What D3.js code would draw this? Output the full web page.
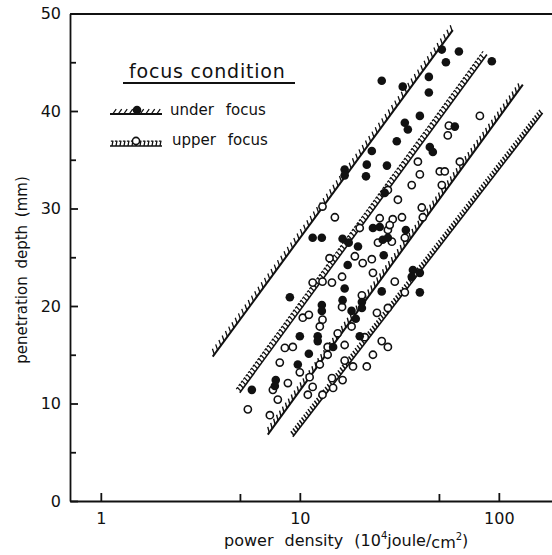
<!DOCTYPE html>
<html>
<head>
<meta charset="utf-8">
<script src="https://cdn.jsdelivr.net/npm/d3@7"></script>
<style>
  body { margin: 0; background: #fff; }
  svg text { font-family: "DejaVu Sans", sans-serif; fill: #111; }
  .axis path, .axis line { stroke: #111; stroke-width: 1.8; }
</style>
</head>
<body>
<div id="chart"></div>
<script>
// under focus (filled dots): power density, penetration depth
var underPower = [51.7, 63.0, 54.2, 92.2, 44.5, 25.8, 32.9, 44.5, 40.1, 33.7, 34.9, 30.7, 45.0, 46.6, 60.1,
  27.4, 21.7, 16.8, 16.8, 21.5, 23.0, 26.7, 11.6, 12.9, 16.4, 19.6, 17.6, 23.3, 25.2, 26.1, 27.7, 34.1,
  26.4, 17.4, 8.91, 16.8, 16.4, 12.9, 12.9, 18.2, 19.1, 25.8, 20.5, 20.5, 10.0, 12.3, 12.3, 11.1, 9.77,
  14.7, 20.0, 7.57, 7.49, 5.74, 37.0, 40.1, 36.5, 40.1];
var underDepth = [46.3, 46.1, 45.0, 45.1, 43.5, 43.1, 42.5, 41.9, 39.5, 38.8, 38.1, 36.9, 36.3, 35.8, 38.4,
  34.4, 34.5, 34.0, 33.4, 33.3, 35.9, 31.6, 27.0, 27.0, 26.9, 26.1, 26.5, 28.0, 28.1, 26.8, 27.0, 27.8,
  25.2, 24.2, 20.9, 21.8, 20.6, 20.1, 19.5, 19.5, 18.7, 21.5, 20.4, 19.8, 16.9, 16.9, 16.4, 15.1, 14.0,
  15.8, 16.9, 12.4, 11.8, 11.4, 23.7, 23.4, 23.0, 21.4];

// upper focus (open circles)
var upperPower = [80.3, 56.1, 55.4, 39.2, 50.5, 53.5, 63.7, 51.7, 40.1, 36.5, 31.1, 41.0, 41.5, 32.6, 29.3,
  27.7, 33.7, 30.0, 33.7, 13.0, 15.0, 27.7, 25.2, 28.3, 20.0, 24.7, 29.0, 14.1, 18.9, 20.7, 23.0, 23.3,
  16.3, 11.6, 13.0, 14.5, 16.3, 20.5, 24.4, 27.7, 10.35, 11.1, 13.0, 12.6, 18.2, 15.5, 16.8, 21.2, 25.8,
  27.7, 13.8, 13.8, 12.6, 8.41, 9.22, 7.93, 10.0, 8.71, 7.32, 7.75, 7.07, 5.48, 10.97, 13.0, 14.7, 14.5,
  16.4, 18.5, 16.8, 21.7, 23.3, 11.6, 11.2];
var upperDepth = [39.5, 38.5, 37.5, 34.8, 33.8, 33.8, 34.8, 32.4, 33.5, 32.4, 30.9, 30.1, 29.1, 29.1, 28.9,
  27.8, 27.0, 22.5, 21.4, 30.2, 29.1, 31.9, 29.0, 28.3, 28.0, 26.5, 26.6, 24.9, 25.1, 24.4, 24.8, 23.4,
  23.0, 22.4, 22.5, 22.4, 19.9, 21.1, 19.3, 19.8, 18.8, 19.1, 18.6, 17.9, 17.9, 17.2, 16.0, 16.8, 16.4,
  15.8, 15.8, 15.0, 14.0, 15.7, 15.8, 14.2, 13.2, 12.1, 11.4, 10.4, 8.8, 9.4, 10.9, 10.9, 11.6, 12.6,
  12.4, 13.8, 14.4, 13.8, 15.0, 11.7, 12.7];

// band boundaries [power, depth] at each end
var underUpperLine = [[3.65, 14.8], [58.7, 48.3]];
var upperUpperLine = [[4.99, 11.1], [87.1, 45.8]];
var underLowerLine = [[6.9, 6.8], [132, 42.7]];
var upperLowerLine = [[9.22, 6.6], [166, 39.8]];

var xMajor = [1, 10, 100];
var xMinor = [5, 50];
var yMajor = [0, 10, 20, 30, 40, 50];
var yMinor = [5, 15, 25, 35, 45];

var svgWidth = 552;
var svgHeight = 555;

var svg = d3.select("#chart").append("svg")
  .attr("width", svgWidth)
  .attr("height", svgHeight);

var x = d3.scaleLog().domain([0.7, 185]).range([70, 552]);
var y = d3.scaleLinear().domain([0, 50]).range([501, 13.5]);

// axes
svg.append("g").attr("class", "axis")
  .attr("transform", `translate(0, ${y(0)})`)
  .call(d3.axisBottom(x).tickValues(xMajor).tickSize(-8).tickSizeOuter(0).tickPadding(12).tickFormat(d3.format("d")))
  .selectAll("text").style("font-size", "16px").style("font-family", "DejaVu Sans");
svg.append("g").attr("class", "axis")
  .attr("transform", `translate(0, ${y(0)})`)
  .call(d3.axisBottom(x).tickValues(xMinor).tickSize(-7).tickFormat(""))
  .select(".domain").remove();
svg.append("g").attr("class", "axis")
  .attr("transform", `translate(0, ${y(50)})`)
  .call(d3.axisTop(x).tickValues([]).tickSizeOuter(0));

svg.append("g").attr("class", "axis")
  .attr("transform", `translate(${x.range()[0]}, 0)`)
  .call(d3.axisLeft(y).tickValues(yMajor).tickSize(-8).tickSizeOuter(0).tickPadding(9))
  .selectAll("text").style("font-size", "16px").style("font-family", "DejaVu Sans");
svg.append("g").attr("class", "axis")
  .attr("transform", `translate(${x.range()[0]}, 0)`)
  .call(d3.axisLeft(y).tickValues(yMinor).tickSize(-6).tickFormat(""))
  .select(".domain").remove();

// axis titles
svg.append("text")
  .attr("transform", "translate(27, 270) rotate(-90)")
  .attr("text-anchor", "middle")
  .style("font-size", "15px")
  .style("word-spacing", "3px")
  .text("penetration depth (mm)");

var xt = svg.append("text")
  .attr("x", 224).attr("y", 546)
  .style("font-size", "16px")
  .style("word-spacing", "6px");
xt.append("tspan").text("power density (10");
xt.append("tspan").attr("dy", -7).style("font-size", "10px").text("4");
xt.append("tspan").attr("dy", 7).text("joule/");
xt.append("tspan").attr("dy", 2).text("cm");
xt.append("tspan").attr("dy", -8).style("font-size", "10px").text("2");
xt.append("tspan").attr("dy", 6).text(")");

// hatched boundary line
function hatch(g, p0, p1, st) {
  var dx = p1[0] - p0[0], dy = p1[1] - p0[1], L = Math.hypot(dx, dy);
  var ux = dx / L, uy = dy / L, nx = uy, ny = -ux;
  var a = st.angle * Math.PI / 180;
  var hx = (nx * Math.cos(a) + ux * Math.sin(a)) * st.len;
  var hy = (ny * Math.cos(a) + uy * Math.sin(a)) * st.len;
  g.append("line")
    .attr("x1", p0[0]).attr("y1", p0[1]).attr("x2", p1[0]).attr("y2", p1[1])
    .attr("stroke", "#111").attr("stroke-width", st.base);
  var d = "";
  for (var s = st.step / 2; s < L - 1; s += st.step) {
    d += "M" + (p0[0] + ux * s) + "," + (p0[1] + uy * s) + "l" + hx + "," + hy;
  }
  g.append("path").attr("d", d).attr("stroke", "#111").attr("stroke-width", st.width).attr("fill", "none");
  if (st.cap) {
    g.append("line")
      .attr("x1", p0[0] + hx).attr("y1", p0[1] + hy).attr("x2", p1[0] + hx).attr("y2", p1[1] + hy)
      .attr("stroke", "#111").attr("stroke-width", 1.2).attr("stroke-dasharray", "2.5,1.5");
  }
}

var styleUnderTop = {step: 5.5, len: 6, angle: 35, width: 1.3, base: 2};
var styleUpperTop = {step: 4, len: 5, angle: 10, width: 1.3, base: 1.6, cap: true};
var styleUnderBottom = {step: 5, len: 6, angle: 40, width: 1.4, base: 2};
var styleUpperBottom = {step: 3.5, len: 5, angle: 15, width: 1.5, base: 1.6};

var lines = svg.append("g");
[[underUpperLine, styleUnderTop], [upperUpperLine, styleUpperTop],
 [underLowerLine, styleUnderBottom], [upperLowerLine, styleUpperBottom]].forEach(function(l) {
  var pts = l[0].map(function(p) { return [x(p[0]), y(p[1])]; });
  hatch(lines, pts[0], pts[1], l[1]);
});

// points
var upperData = upperPower.map(function(v, i) { return {p: v, d: upperDepth[i]}; });
var underData = underPower.map(function(v, i) { return {p: v, d: underDepth[i]}; });

svg.append("g").selectAll("circle")
  .data(upperData).enter().append("circle")
  .attr("cx", d => x(d.p)).attr("cy", d => y(d.d))
  .attr("r", 3.6).attr("fill", "#fff").attr("stroke", "#111").attr("stroke-width", 1.6);

svg.append("g").selectAll("circle")
  .data(underData).enter().append("circle")
  .attr("cx", d => x(d.p)).attr("cy", d => y(d.d))
  .attr("r", 4.3).attr("fill", "#111");

// legend
var lg = svg.append("g");
lg.append("text").attr("x", 129).attr("y", 78)
  .style("font-size", "19px").style("letter-spacing", "0.8px")
  .text("focus condition");
lg.append("line").attr("x1", 123).attr("x2", 295).attr("y1", 83).attr("y2", 83)
  .attr("stroke", "#111").attr("stroke-width", 2);

hatch(lg, [110, 114], [162, 114], styleUnderTop);
lg.append("circle").attr("cx", 137).attr("cy", 110).attr("r", 4.3).attr("fill", "#111");
lg.append("text").attr("x", 170).attr("y", 115)
  .style("font-size", "15px").style("word-spacing", "7px").text("under focus");

hatch(lg, [110, 146], [162, 146], styleUpperTop);
lg.append("circle").attr("cx", 136).attr("cy", 141).attr("r", 3.6)
  .attr("fill", "#fff").attr("stroke", "#111").attr("stroke-width", 1.6);
lg.append("text").attr("x", 172).attr("y", 145)
  .style("font-size", "15px").style("word-spacing", "7px").text("upper focus");
</script>
</body>
</html>
